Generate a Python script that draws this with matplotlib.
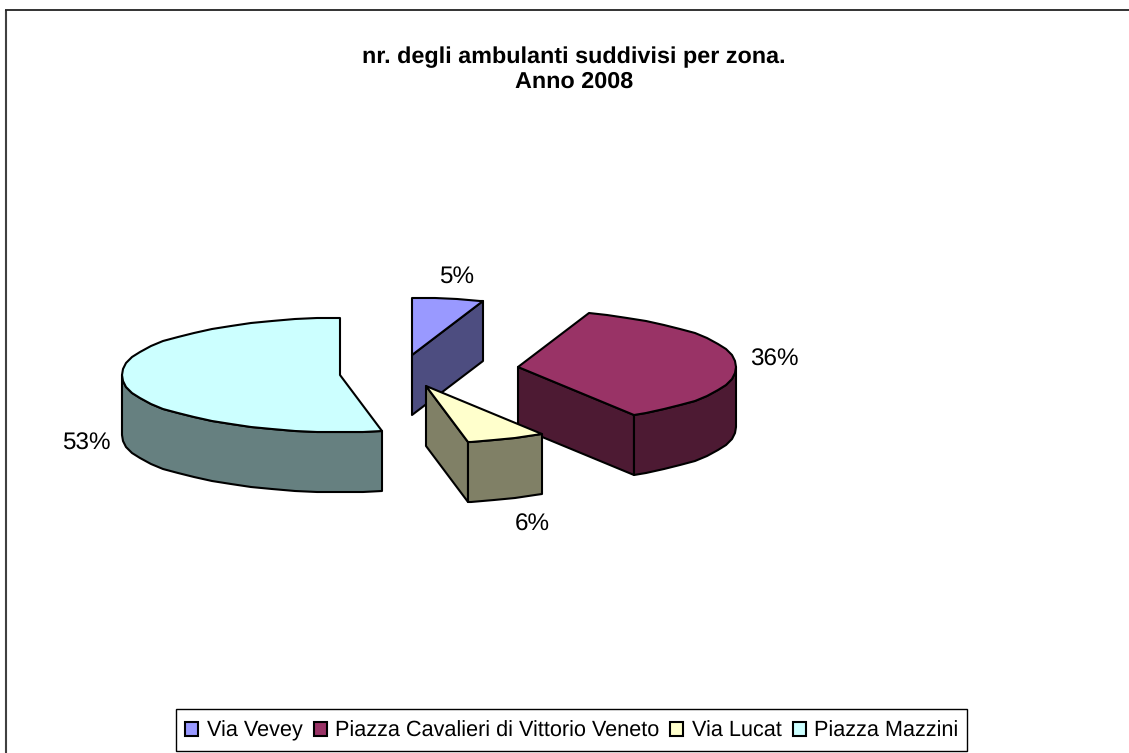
import numpy as np
import matplotlib
matplotlib.use("Agg")
import matplotlib.pyplot as plt
from matplotlib.patches import Polygon, Patch, Rectangle

plt.rcParams['font.family'] = ['Liberation Sans', 'DejaVu Sans']
plt.rcParams['text.hinting'] = 'none'
plt.rcParams['text.kerning_factor'] = 0

title_lines = ["nr. degli ambulanti suddivisi per zona.", "Anno 2008"]
categories = ["Via Vevey", "Piazza Cavalieri di Vittorio Veneto", "Via Lucat", "Piazza Mazzini"]
shares = [5.3, 35.8, 5.8, 53.1]
top_colors = ["#9999FF", "#993366", "#FFFFCC", "#CCFFFF"]
side_colors = ["#4D4D80", "#4D1A33", "#808066", "#668080"]
apexes = [(412, 355), (518, 367), (426, 386), (340, 375)]
label_pos = [(457, 276.5), (774, 359.5), (532, 524.5), (86, 443.5)]

RX, RY, DEPTH = 218.5, 57, 60

fig = plt.figure(figsize=(11.29, 7.53), dpi=100, facecolor='white')
ax = fig.add_axes([0, 0, 1, 1])
ax.set_xlim(0, 1129)
ax.set_ylim(753, 0)
ax.axis('off')

ax.plot([6, 6], [753, 10], color='#404040', lw=1.5, solid_capstyle='butt')
ax.plot([5, 1129], [10, 10], color='#222222', lw=1.3, solid_capstyle='butt')

for i, line in enumerate(title_lines):
    ax.text(574, 57 + 25 * i, line, ha='center', va='center', fontsize=16.8, fontweight='bold', color='black')


def rim(t0, t1, ax0):
    # shared angular grid so the top rim and the wall rim coincide
    grid = np.arange(np.ceil(t0 / 6) * 6, t1, 6.0)
    th = np.radians(np.unique(np.concatenate([[t0], grid, [t1]])))
    x = ax0[0] + RX * np.sin(th)
    y = ax0[1] - RY * np.cos(th)
    return np.round(np.column_stack([x, y]))


edges = np.cumsum([0] + shares) / sum(shares) * 360
LW = 1.5
for i in range(4):
    a = np.array(apexes[i], float)
    r = rim(edges[i], edges[i + 1], a)
    d = np.array([0, DEPTH])
    kw = dict(edgecolor='black', lw=LW, joinstyle='round', zorder=2 + i)
    if i < 3:
        ax.add_patch(Polygon([a, r[-1], r[-1] + d, a + d], facecolor=side_colors[i], **kw))
    if edges[i + 1] > 90 and edges[i] < 270:
        front = rim(max(edges[i], 90), min(edges[i + 1], 270), a)
        wall = np.vstack([front, (front + d)[::-1]])
        ax.add_patch(Polygon(wall, facecolor=side_colors[i], **kw))
    ax.add_patch(Polygon(np.vstack([a, r]), facecolor=top_colors[i], **kw))

for (x, y), s in zip(label_pos, shares):
    ax.text(x, y, f"{round(s)}%", ha='center', va='center', fontsize=17.5, color='black', zorder=20)

ax.add_patch(Rectangle((176, 709), 791, 42, facecolor='white', edgecolor='black', lw=1.0, zorder=29))
handles = [Patch(facecolor=c, edgecolor='black', lw=1.5) for c in top_colors]
leg = ax.legend(handles, categories, ncol=4, loc='center', bbox_to_anchor=(572 / 1129, 1 - 731 / 753),
                bbox_transform=fig.transFigure, fontsize=15.6, frameon=False,
                handlelength=0.6, handleheight=0.6, handletextpad=0.4, columnspacing=0.5,
                borderpad=0.55, borderaxespad=0)
leg.set_zorder(30)

fig.savefig("out.png", dpi=100)
